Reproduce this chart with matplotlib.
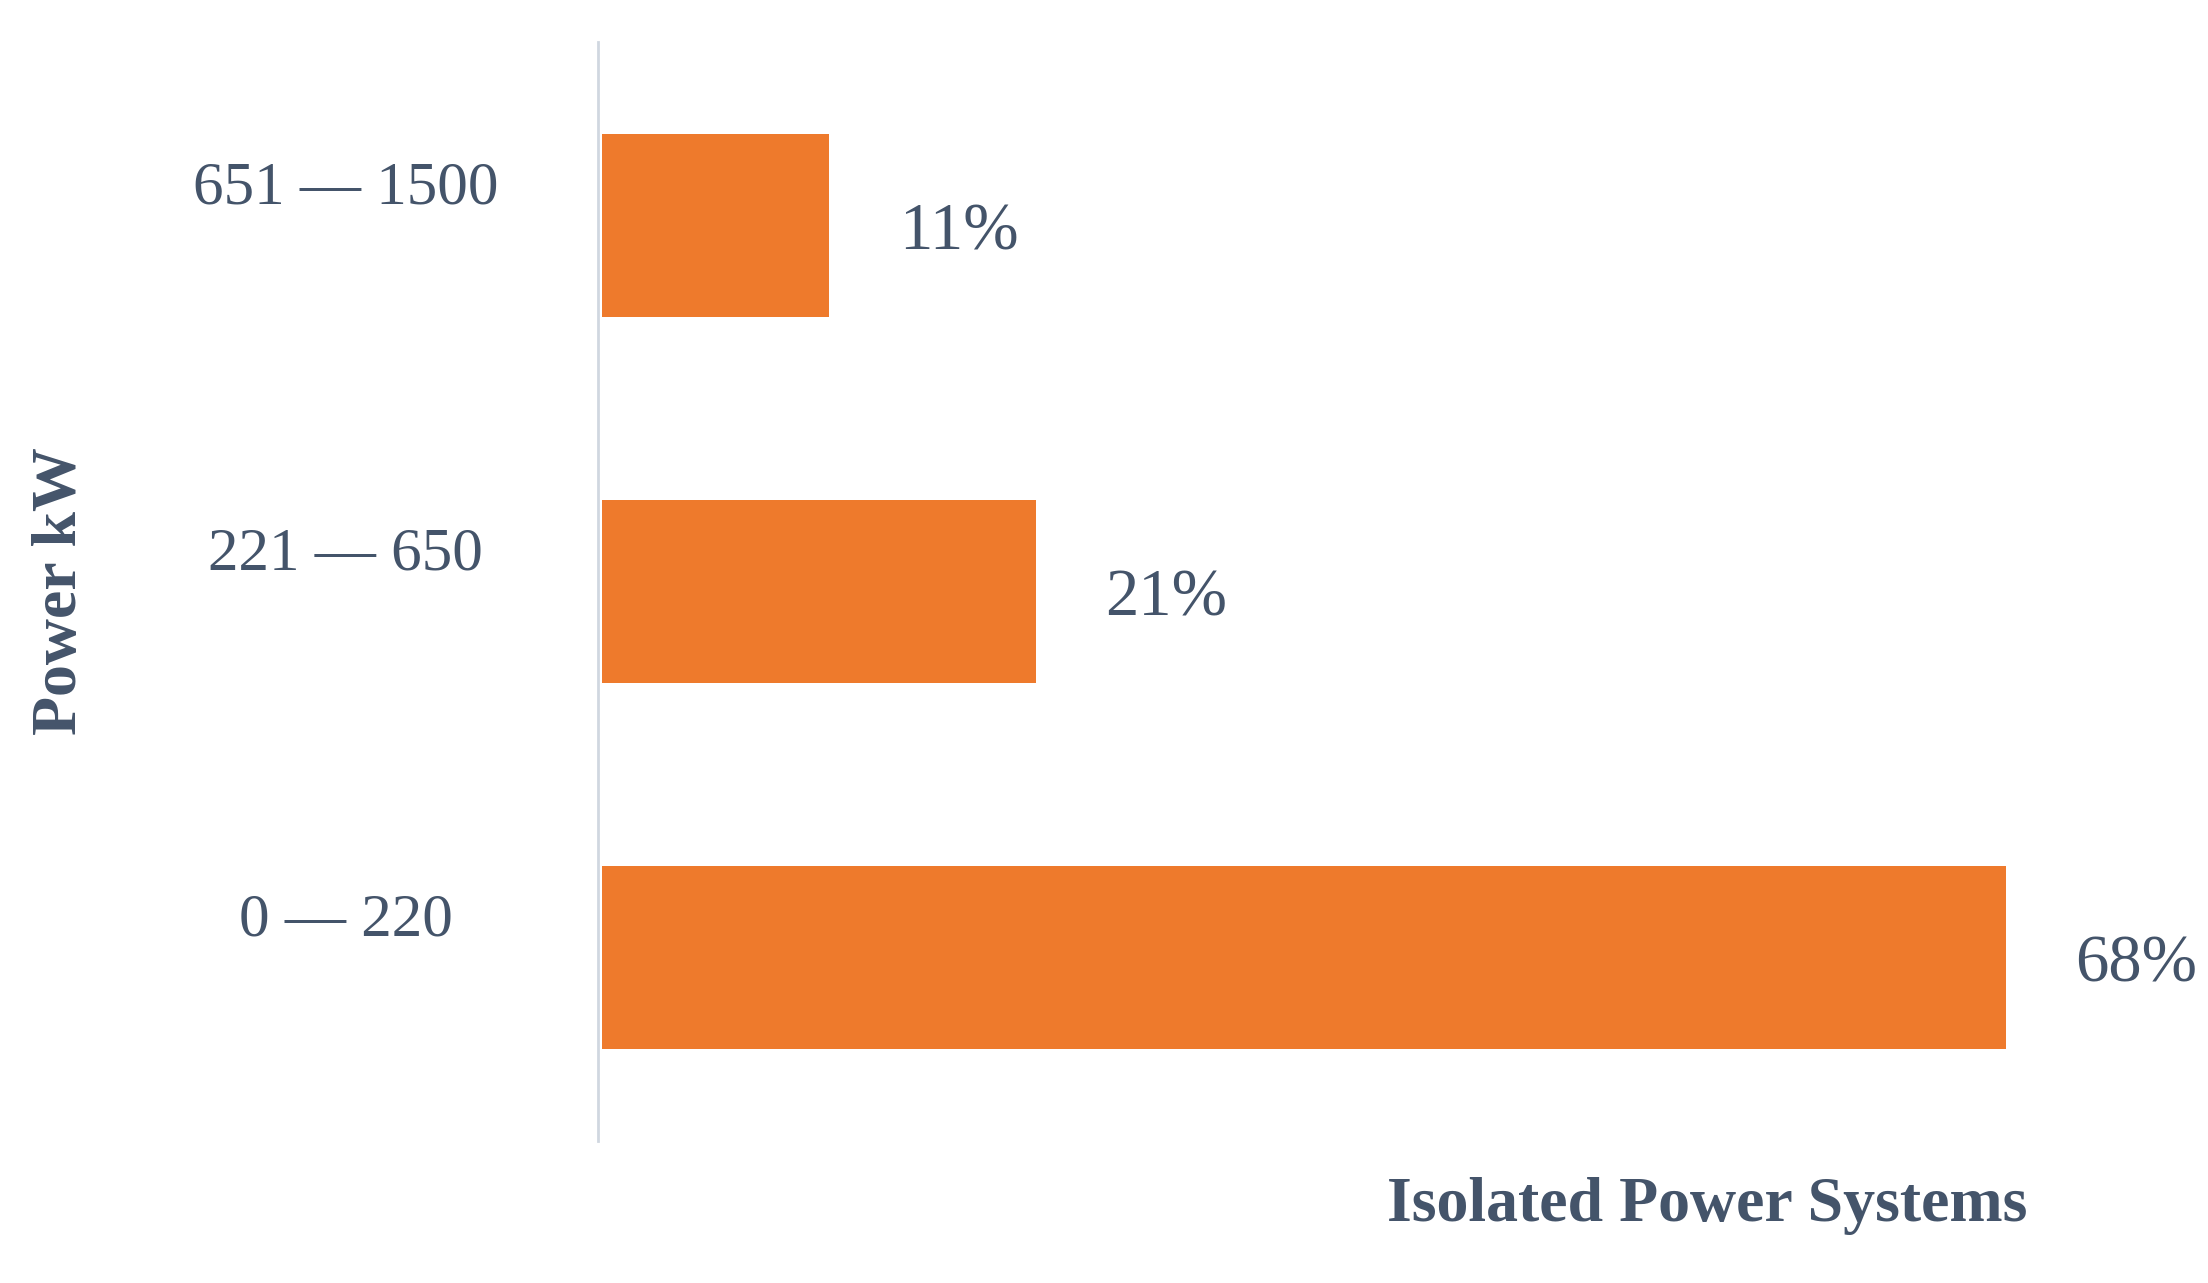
import matplotlib
matplotlib.use("Agg")
import matplotlib.pyplot as plt
import matplotlib.transforms as mtransforms

categories = ["0 — 220", "221 — 650", "651 — 1500"]
values = [68, 21, 11]
value_labels = ["68%", "21%", "11%"]

txt = "#44546A"
fig = plt.figure(figsize=(22.08, 12.83), dpi=100)
ax = fig.add_axes([0.271, 0.111, 0.729, 0.856])
ys = list(range(len(categories)))
ax.barh(ys, values, height=0.5, color="#EE7A2C", left=0.2)
ax.set_xlim(0, 78)
ax.set_ylim(-0.5, 2.5)
for s in ["top", "right", "bottom"]:
    ax.spines[s].set_visible(False)
ax.spines["left"].set_color("#D0D7E0")
ax.spines["left"].set_linewidth(2)
ax.set_xticks([])
ax.set_yticks([])
font = "Liberation Serif"
tr = mtransforms.blended_transform_factory(ax.transAxes, ax.transData)
for y, c, v, l in zip(ys, categories, values, value_labels):
    ax.text(-0.157, y + 0.1, c, transform=tr, ha="center", va="center",
            fontsize=44, color=txt, family=font)
    ax.annotate(l, (v + 0.2, y - 0.02), xytext=(50, 0), textcoords="offset points",
                ha="left", va="center", fontsize=48, color=txt, family=font)
ax.text(-0.334, 1.0, "Power kW", transform=tr, rotation=90, ha="center", va="center",
        fontsize=46, fontweight="bold", color=txt, family=font)
ax.text(0.888, -0.06, "Isolated Power Systems", transform=ax.transAxes, ha="right",
        va="center", fontsize=46, fontweight="bold", color=txt, family=font)
fig.savefig("out.png", dpi=100)
